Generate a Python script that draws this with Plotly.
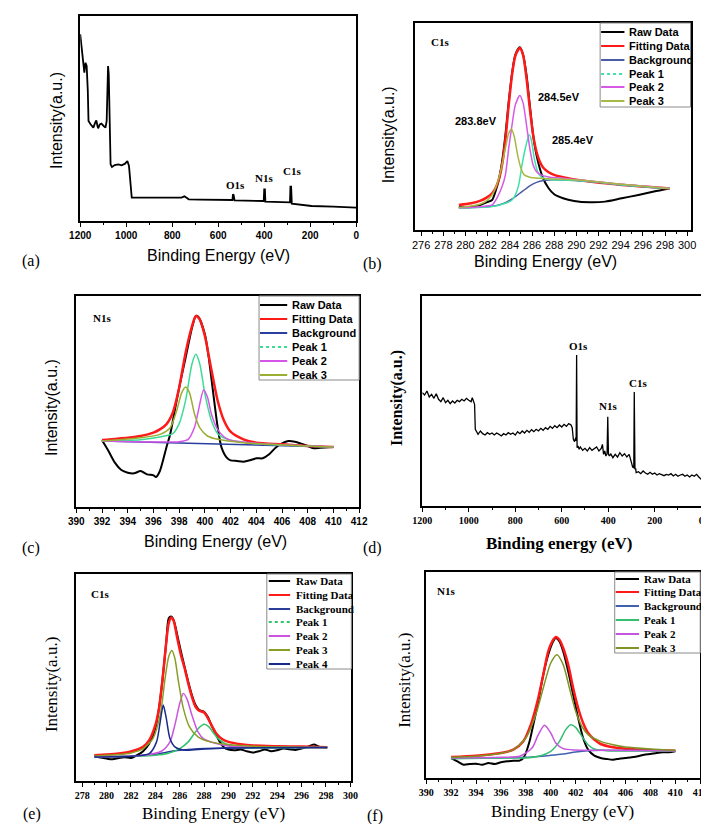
import plotly.graph_objects as go

# ---------------- data (intensity in arbitrary units) ----------------
# (a) survey spectrum
a_energy = [1200, 1194, 1186, 1182, 1177, 1172, 1167, 1164, 1155, 1143,
            1135, 1130, 1125, 1122, 1115, 1108, 1098, 1090, 1085, 1081,
            1079, 1076, 1072, 1068, 1062, 1050, 1034, 1020, 1005, 995,
            988, 981, 976, 950, 906, 850, 792, 760, 747, 740,
            728, 680, 621, 560, 545, 538, 536, 533, 529, 470,
            408, 402, 400, 397, 395, 350, 301, 295, 288, 286,
            283, 280, 260, 200, 194, 100, 0]
a_intensity = [560, 520, 480, 445, 475, 465, 390, 300, 290, 280,
               295, 302, 285, 278, 290, 292, 285, 280, 300, 450,
               465, 440, 290, 170, 162, 168, 170, 167, 172, 180,
               165, 120, 70, 70, 70, 68, 69, 70, 74, 70,
               65, 64, 64, 64, 63, 63, 80, 78, 62, 61,
               60, 60, 95, 95, 58, 58, 58, 56, 56, 103,
               103, 52, 50, 46, 45, 43, 40]
a_peak_labels = ["O1s", "N1s", "C1s"]

# (b) C1s
b_raw_E = [279.4, 280.5, 281.3, 281.9, 282.4, 282.7, 283.0, 283.3, 283.6, 283.9,
           284.2, 284.5, 284.9, 285.2, 285.5, 285.8, 286.1, 286.4, 286.7, 287.0,
           287.5, 288.0, 288.8, 289.8, 291.2, 292.6, 294.1, 295.6, 297.0, 298.4]
b_raw_I = [68, 69, 75, 83, 90, 115, 150, 205, 285, 385,
           470, 525, 547, 525, 465, 375, 285, 225, 185, 155,
           125, 107, 95, 87, 83, 85, 95, 105, 115, 124]
b_fit_E = b_raw_E
b_fit_I = [75, 80, 87, 97, 110, 125, 150, 195, 270, 375,
           465, 522, 545, 523, 455, 365, 285, 235, 205, 187,
           173, 165, 158, 151, 145, 140, 135, 131, 128, 124]
b_bg_E = [279.4, 281.3, 282.4, 283.0, 283.6, 284.2, 284.9, 285.5, 286.1, 286.7, 287.5, 288.8, 291.2, 294.1, 298.4]
b_bg_I = [67, 68, 71, 75, 82, 93, 110, 125, 138, 146, 150, 150, 145, 135, 124]
b_p1_E = [279.4, 282.4, 283.6, 284.2, 284.5, 284.8, 285.1, 285.4, 285.75, 285.95, 286.2, 286.5, 286.8, 287.3, 288.0, 288.8, 291.2, 294.1, 298.4]
b_p1_I = [65, 70, 80, 90, 105, 135, 195, 245, 285, 268, 215, 175, 160, 153, 150, 150, 145, 135, 124]
b_p2_E = [279.4, 281.3, 282.4, 282.9, 283.3, 283.6, 283.9, 284.2, 284.5, 284.9, 285.2, 285.5, 285.8, 286.1, 286.4, 286.8, 287.5, 288.8, 291.2, 294.1, 298.4]
b_p2_I = [67, 70, 75, 100, 130, 165, 245, 315, 375, 403, 380, 315, 245, 195, 175, 165, 159, 155, 147, 137, 125]
b_p3_E = [279.4, 281.3, 281.9, 282.4, 282.7, 283.0, 283.3, 283.6, 283.9, 284.15, 284.4, 284.7, 285.0, 285.3, 285.8, 286.7, 288.0, 291.2, 294.1, 298.4]
b_p3_I = [67, 77, 87, 105, 125, 155, 195, 245, 290, 302, 280, 225, 185, 165, 158, 155, 153, 147, 137, 124]
b_peak_labels = ["284.5eV", "283.8eV", "285.4eV"]

# (c) N1s
c_raw_E = [392.0, 392.5, 393.0, 393.5, 394.0, 394.5, 395.0, 395.5, 396.0, 396.2,
           396.5, 397.0, 397.3, 397.7, 398.0, 398.5, 399.0, 399.3, 399.5, 400.0,
           400.3, 400.5, 401.0, 401.3, 401.7, 402.0, 402.5, 403.0, 403.5, 404.0,
           404.5, 405.0, 405.5, 406.0, 406.5, 407.0, 407.5, 408.0, 408.5, 409.0, 410.0]
c_raw_I = [200, 168, 133, 111, 103, 101, 108, 98, 95, 90,
           108, 178, 218, 298, 358, 448, 538, 573, 570, 518,
           448, 388, 238, 178, 148, 140, 138, 136, 140, 146,
           146, 158, 178, 191, 198, 196, 190, 183, 176, 178, 180]
c_fit_E = [392.0, 394.0, 395.0, 396.0, 396.5, 397.0, 397.5, 398.0, 398.5, 399.0, 399.3,
           399.6, 400.0, 400.5, 401.0, 401.5, 402.0, 403.0, 404.0, 406.0, 408.0, 410.0]
c_fit_I = [201, 208, 213, 223, 233, 248, 283, 358, 463, 543, 573,
           563, 513, 413, 318, 258, 226, 203, 193, 188, 183, 180]
c_bg_E = [392.0, 410.0]
c_bg_I = [198, 180]
c_p1_E = [392.0, 395.0, 396.5, 397.5, 398.0, 398.5, 399.0, 399.3, 399.6, 400.0, 400.5, 401.0, 402.0, 404.0, 410.0]
c_p1_I = [199, 202, 210, 220, 250, 320, 430, 458, 430, 340, 260, 220, 200, 190, 180]
c_p2_E = [392.0, 396.0, 398.0, 398.7, 399.2, 399.5, 399.9, 400.2, 400.5, 401.0, 401.5, 402.0, 404.0, 410.0]
c_p2_I = [198, 195, 196, 203, 240, 290, 351, 330, 280, 232, 210, 200, 191, 180]
c_p3_E = [392.0, 395.0, 396.5, 397.3, 397.8, 398.2, 398.5, 398.8, 399.2, 399.6, 400.2, 401.0, 403.0, 410.0]
c_p3_I = [198, 208, 218, 238, 288, 343, 360, 343, 278, 238, 213, 203, 193, 180]

# (d) survey spectrum
d_energy = [1200, 1190, 1180, 1170, 1160, 1150, 1140, 1130, 1120, 1110,
            1100, 1090, 1080, 1070, 1060, 1050, 1040, 1030, 1020, 1010,
            1000, 990, 985, 980, 975, 972, 965, 960, 950, 940,
            930, 920, 910, 900, 890, 880, 870, 860, 850, 840,
            830, 820, 810, 800, 790, 780, 770, 760, 750, 740,
            730, 720, 710, 700, 690, 680, 670, 660, 650, 640,
            630, 620, 610, 600, 590, 580, 570, 560, 555, 550,
            545, 540, 538, 536, 534, 530, 525, 520, 510, 500,
            490, 480, 470, 460, 450, 440, 430, 425, 420, 415,
            410, 405, 402, 399, 395, 390, 380, 370, 360, 350,
            340, 330, 320, 310, 305, 300, 295, 290, 288, 285,
            282, 280, 270, 260, 250, 240, 230, 220, 210, 200,
            190, 180, 170, 160, 150, 140, 130, 120, 110, 100,
            90, 80, 70, 60, 50, 40, 30, 20, 10, 0]
d_intensity = [340, 333, 345, 327, 335, 323, 337, 320, 313, 325,
               310, 317, 307, 315, 309, 317, 313, 320, 315, 323,
               317, 313, 325, 317, 305, 230, 223, 215, 225, 217,
               213, 220, 215, 219, 213, 219, 215, 210, 217, 213,
               220, 215, 219, 213, 223, 217, 225, 219, 227, 221,
               229, 223, 230, 225, 233, 227, 235, 230, 239, 233,
               241, 235, 243, 237, 245, 239, 247, 243, 235, 200,
               193, 205, 195, 453, 175, 180, 170, 177, 167, 173,
               165, 175, 167, 171, 177, 165, 173, 185, 155, 165,
               150, 157, 268, 155, 150, 157, 145, 155, 147, 160,
               150, 157, 147, 155, 137, 130, 117, 115, 342, 110,
               113, 100, 103, 97, 105, 99, 95, 101, 95, 99,
               93, 97, 95, 91, 95, 93, 97, 90, 95, 89,
               93, 95, 89, 93, 87, 93, 89, 95, 87, 80]
d_peak_labels = ["O1s", "N1s", "C1s"]

# (e) C1s
e_raw_E = [279.0, 280.0, 280.5, 281.0, 281.5, 282.0, 282.5, 283.0, 283.5, 284.0,
           284.3, 284.6, 284.9, 285.1, 285.3, 285.5, 285.8, 286.1, 286.4, 286.7,
           287.0, 287.3, 287.6, 288.0, 288.3, 288.6, 289.0, 289.3, 289.6, 290.0,
           290.5, 291.0, 291.5, 292.0, 292.5, 293.0, 293.5, 294.0, 294.5, 295.0,
           295.5, 296.0, 296.5, 297.0, 297.5, 298.1]
e_raw_I = [74, 67, 65, 69, 71, 69, 77, 89, 112, 157,
           217, 307, 417, 487, 492, 482, 437, 387, 342, 297,
           257, 227, 212, 207, 192, 167, 137, 117, 102, 94,
           92, 94, 89, 85, 89, 94, 89, 92, 97, 95,
           93, 97, 102, 109, 102, 100]
e_fit_E = [279.0, 280.0, 281.0, 282.0, 283.0, 283.5, 284.0, 284.3, 284.6, 284.9,
           285.1, 285.3, 285.5, 285.8, 286.1, 286.4, 286.7, 287.0, 287.3, 287.6,
           288.0, 288.3, 288.6, 289.0, 289.5, 290.0, 291.0, 292.0, 294.0, 296.0, 298.1]
e_fit_I = [77, 79, 82, 88, 102, 122, 167, 217, 307, 417,
           472, 489, 479, 427, 377, 337, 292, 252, 222, 210,
           205, 189, 167, 142, 125, 117, 110, 106, 104, 103, 101]
e_bg_E = [279.0, 282.0, 284.0, 285.0, 286.0, 287.0, 288.0, 290.0, 298.1]
e_bg_I = [74, 74, 79, 87, 92, 95, 97, 99, 100]
e_p1_E = [279.0, 284.0, 285.0, 286.0, 286.7, 287.2, 287.6, 288.0, 288.4, 288.8, 289.3, 290.0, 291.0, 298.1]
e_p1_I = [72, 77, 82, 97, 117, 142, 160, 170, 162, 142, 122, 107, 101, 100]
e_p2_E = [279.0, 283.0, 284.5, 285.2, 285.6, 286.0, 286.3, 286.6, 287.0, 287.5, 288.0, 289.0, 290.0, 298.1]
e_p2_I = [72, 77, 89, 117, 167, 232, 262, 245, 197, 147, 125, 112, 105, 100]
e_p3_E = [279.0, 281.0, 282.0, 283.0, 283.8, 284.4, 284.8, 285.1, 285.35, 285.6, 285.9, 286.3, 286.8, 287.5, 288.5, 290.0, 292.0, 298.1]
e_p3_I = [75, 79, 84, 97, 127, 197, 307, 372, 390, 367, 297, 217, 162, 132, 117, 109, 104, 100]
e_p4_E = [279.0, 282.0, 283.5, 284.1, 284.4, 284.65, 284.9, 285.2, 285.6, 286.5, 288.0, 290.0, 298.1]
e_p4_I = [72, 74, 82, 117, 177, 227, 187, 127, 102, 92, 96, 99, 100]

# (f) N1s
f_raw_E = [392.0, 392.5, 393.0, 393.5, 394.0, 394.5, 395.0, 395.5, 396.0, 396.5,
           397.0, 397.5, 397.8, 398.0, 398.3, 398.6, 399.0, 399.4, 399.8, 400.2,
           400.4, 400.7, 401.0, 401.4, 401.8, 402.2, 402.6, 403.0, 403.5, 404.0,
           404.5, 405.0, 405.5, 406.0, 406.5, 407.0, 407.5, 408.0, 408.5, 409.0,
           409.5, 410.0]
f_raw_I = [60, 50, 40, 42, 43, 40, 45, 42, 47, 50,
           52, 52, 60, 75, 110, 160, 230, 310, 370, 410,
           420, 410, 380, 320, 250, 180, 120, 85, 67, 60,
           57, 55, 58, 60, 62, 65, 70, 72, 75, 77,
           77, 80]
f_fit_E = [392.0, 394.0, 396.0, 397.0, 397.8, 398.4, 399.0, 399.4, 399.8, 400.2, 400.4, 400.7,
           401.0, 401.4, 401.8, 402.2, 402.6, 403.0, 403.5, 404.0, 405.0, 406.0, 408.0, 410.0]
f_fit_I = [63, 67, 75, 85, 110, 160, 240, 310, 380, 415, 423, 415,
           390, 340, 270, 210, 165, 135, 115, 102, 92, 88, 84, 82]
f_bg_E = [392.0, 398.0, 400.0, 401.0, 402.0, 403.0, 404.0, 410.0]
f_bg_I = [60, 62, 68, 72, 78, 82, 83, 82]
f_p1_E = [392.0, 396.0, 398.0, 399.0, 400.0, 400.7, 401.2, 401.6, 402.0, 402.5, 403.0, 403.5, 404.5, 410.0]
f_p1_I = [58, 60, 60, 65, 80, 110, 145, 160, 152, 125, 100, 87, 82, 82]
f_p2_E = [392.0, 396.0, 397.5, 398.5, 399.0, 399.5, 400.0, 400.4, 401.0, 402.0, 403.0, 410.0]
f_p2_I = [60, 62, 65, 90, 130, 158, 135, 105, 88, 84, 83, 82]
f_p3_E = [392.0, 394.0, 396.0, 397.0, 398.0, 398.8, 399.4, 400.0, 400.5, 401.0, 401.5, 402.0, 402.5, 403.0, 404.0, 405.0, 406.0, 408.0, 410.0]
f_p3_I = [62, 65, 74, 85, 120, 190, 270, 345, 370, 340, 270, 200, 155, 130, 110, 100, 93, 87, 83]

series_names = ["Raw Data", "Fitting Data", "Background", "Peak 1", "Peak 2", "Peak 3", "Peak 4"]
panel_letters = ["(a)", "(b)", "(c)", "(d)", "(e)", "(f)"]

# ---------------- layout helpers ----------------
W, H = 709, 824
SANS = "Liberation Sans"
SERIF = "Liberation Serif"


def PX(x):
    return x / W


def PY(y):
    return 1 - y / H


fig = go.Figure()
shapes = []
annotations = []


def add(xs, ys, ax, color, width, shape="spline", name=None):
    fig.add_trace(go.Scatter(
        x=xs, y=ys, mode="lines", name=name, xaxis="x" + ax, yaxis="y" + ax,
        line=dict(color=color, width=width, shape=shape, smoothing=0.7),
        hoverinfo="skip", showlegend=False))


def ann(x, y, text, family, size, bold=False, angle=0, xanchor="center"):
    annotations.append(dict(
        x=PX(x), y=PY(y), xref="paper", yref="paper", text=text, showarrow=False,
        xanchor=xanchor, yanchor="middle", textangle=angle,
        font=dict(family=family, size=size, color="black", weight="bold" if bold else "normal")))


def legend(box, rows, sample, text_x, names, colors, dashes, family):
    l, t, r, b = box
    shapes.append(dict(type="rect", xref="paper", yref="paper", x0=PX(l), x1=PX(r),
                       y0=PY(b), y1=PY(t), line=dict(color="#8a8a8a", width=1),
                       fillcolor="white", layer="above"))
    for row, nm, col, ds in zip(rows, names, colors, dashes):
        shapes.append(dict(type="line", xref="paper", yref="paper", x0=PX(sample[0]), x1=PX(sample[1]),
                           y0=PY(row), y1=PY(row), line=dict(color=col, width=2, dash=ds), layer="above"))
        ann(text_x, row, nm, family, 11, bold=True, xanchor="left")


boxes = {"": (63, 8, 347, 213), "2": (407, 15, 691, 222), "3": (59, 288, 350, 499),
         "4": (415, 288, 702, 498), "5": (59, 566, 342, 773), "6": (419, 564, 701, 770)}
xranges = {"": [1200, 0], "2": [275.4, 300.3], "3": [390, 412],
           "4": [1200, 0], "5": [277.52, 300.08], "6": [390, 412]}
yranges = {"": [0, 615], "2": [0, 620], "3": [0, 633], "4": [0, 630], "5": [0, 619], "6": [0, 618]}
dticks = {"": (200, 100), "2": (2, 1), "3": (2, 1), "4": (200, 100), "5": (2, 1), "6": (2, 1)}
tfonts = {"": dict(family=SANS, size=10, color="black", weight="bold"),
          "2": dict(family=SANS, size=11, color="black"),
          "3": dict(family=SANS, size=10, color="black", weight="bold"),
          "4": dict(family=SERIF, size=10, color="black", weight="bold"),
          "5": dict(family=SERIF, size=10, color="black", weight="bold"),
          "6": dict(family=SERIF, size=10, color="black", weight="bold")}

layout_axes = {}
for ax, (l, t, r, b) in boxes.items():
    major, minor = dticks[ax]
    layout_axes["xaxis" + ax] = dict(
        domain=[PX(l), PX(r)], range=xranges[ax], anchor="y" + ax,
        showline=True, mirror=True, linecolor="black", linewidth=1.5,
        ticks="outside", ticklen=4, tickwidth=1.2, tickcolor="black",
        tick0=0, dtick=major, tickfont=tfonts[ax],
        minor=dict(dtick=minor, ticks="outside", ticklen=2.5, tickwidth=1, tickcolor="black"),
        showgrid=False, zeroline=False, fixedrange=True)
    layout_axes["yaxis" + ax] = dict(
        domain=[PY(b), PY(t)], range=yranges[ax], anchor="x" + ax,
        showline=True, mirror=True, linecolor="black", linewidth=1.5,
        ticks="", showticklabels=False, showgrid=False, zeroline=False, fixedrange=True)

# ---------------- traces ----------------
RED = "#ff1a1a"
# (a)
add(a_energy, a_intensity, "", "black", 1.8, shape="linear")
# (b)
b_cols = ["black", RED, "#4b5ba6", "#40e0a8", "#d65ae6", "#a8b845"]
for (xs, ys), c, w, n in zip([(b_raw_E, b_raw_I), (b_fit_E, b_fit_I), (b_bg_E, b_bg_I),
                               (b_p1_E, b_p1_I), (b_p2_E, b_p2_I), (b_p3_E, b_p3_I)],
                              b_cols, [2, 2.5, 1.5, 1.5, 1.5, 1.5], series_names):
    add(xs, ys, "2", c, w, name=n)
# (c)
c_cols = ["black", RED, "#2a3fa0", "#3ddc96", "#d455e8", "#9aae32"]
for (xs, ys), c, w, n in zip([(c_raw_E, c_raw_I), (c_fit_E, c_fit_I), (c_bg_E, c_bg_I),
                               (c_p1_E, c_p1_I), (c_p2_E, c_p2_I), (c_p3_E, c_p3_I)],
                              c_cols, [2, 2.5, 1.5, 1.5, 1.5, 1.5], series_names):
    add(xs, ys, "3", c, w, name=n)
# (d)
add(d_energy, d_intensity, "4", "black", 1.3, shape="linear")
# (e)
e_cols = ["black", RED, "#2a3d99", "#2fc46a", "#cc55e0", "#8a9e26", "#1a2a8a"]
for (xs, ys), c, w, n in zip([(e_raw_E, e_raw_I), (e_fit_E, e_fit_I), (e_bg_E, e_bg_I),
                               (e_p1_E, e_p1_I), (e_p2_E, e_p2_I), (e_p3_E, e_p3_I), (e_p4_E, e_p4_I)],
                              e_cols, [2, 2.5, 1.5, 1.5, 1.5, 1.5, 1.5], series_names):
    add(xs, ys, "5", c, w, name=n)
# (f)
f_cols = ["black", RED, "#4060b0", "#34c070", "#c855e0", "#7f9424"]
for (xs, ys), c, w, n in zip([(f_raw_E, f_raw_I), (f_fit_E, f_fit_I), (f_bg_E, f_bg_I),
                               (f_p1_E, f_p1_I), (f_p2_E, f_p2_I), (f_p3_E, f_p3_I)],
                              f_cols, [2, 2.5, 1.5, 1.5, 1.5, 1.5], series_names):
    add(xs, ys, "6", c, w, name=n)

# ---------------- legends ----------------
legend((598, 15, 691, 99), [24, 38, 52, 66, 79, 93], (599, 623), 626,
       series_names[:6], b_cols, ["solid", "solid", "solid", "dot", "solid", "solid"], SANS)
legend((247, 288, 350, 372), [297, 311, 325, 339, 353, 367], (248, 276), 279,
       series_names[:6], c_cols, ["solid", "solid", "solid", "dot", "solid", "solid"], SANS)
legend((255, 566, 342, 661), [573, 587, 601, 614, 628, 642, 656], (257, 279), 283,
       series_names, e_cols, ["solid", "solid", "solid", "dot", "solid", "solid", "solid"], SERIF)
legend((613, 564, 701, 645), [571, 584, 598, 612, 626, 640], (614, 638), 641,
       series_names[:6], f_cols, ["solid"] * 6, SERIF)

# ---------------- text ----------------
for (x, y), t in zip([(223, 177), (252, 170), (281, 163)], a_peak_labels):
    ann(x, y, t, SERIF, 11, bold=True)
for (x, y), t in zip([(576, 338), (606, 398), (637, 375)], d_peak_labels):
    ann(x, y, t, SERIF, 11, bold=True)
ann(433, 34, "C1s", SERIF, 11, bold=True)
for (x, y), t in zip([(556, 89), (470, 113), (570, 132)], b_peak_labels):
    ann(x, y, t, SANS, 11, bold=True)
ann(85, 310, "N1s", SERIF, 11, bold=True)
ann(83, 586, "C1s", SERIF, 11, bold=True)
ann(439, 583, "N1s", SERIF, 11, bold=True)

ann(39, 112, "Intensity(a.u.)", SANS, 16, angle=-90)
ann(381, 127, "Intensity(a.u.)", SANS, 16, angle=-90)
ann(33, 400, "Intensity(a.u.)", SANS, 16, angle=-90)
ann(389, 390, "Intensity(a.u.)", SERIF, 16, bold=True, angle=-90)
ann(33, 677, "Intensity(a.u.)", SERIF, 17, angle=-90)
ann(396, 672, "Intensity(a.u.)", SERIF, 17, angle=-90)

ann(205, 248, "Binding Energy (eV)", SANS, 16)
ann(542, 253, "Binding Energy (eV)", SANS, 16)
ann(202, 533, "Binding Energy (eV)", SANS, 16)
ann(556, 535, "Binding energy (eV)", SERIF, 17, bold=True)
ann(200, 805, "Binding Energy (eV)", SERIF, 17)
ann(559, 803, "Binding Energy (eV)", SERIF, 17)

for (x, y), t in zip([(12, 253), (364, 256), (12, 540), (364, 540), (13, 806), (366, 808)], panel_letters):
    ann(x, y, t, SERIF, 16)

fig.update_layout(
    width=W, height=H, margin=dict(l=0, r=0, t=0, b=0),
    paper_bgcolor="white", plot_bgcolor="white", showlegend=False,
    shapes=shapes, annotations=annotations, **layout_axes)

fig.write_html("out.html")
